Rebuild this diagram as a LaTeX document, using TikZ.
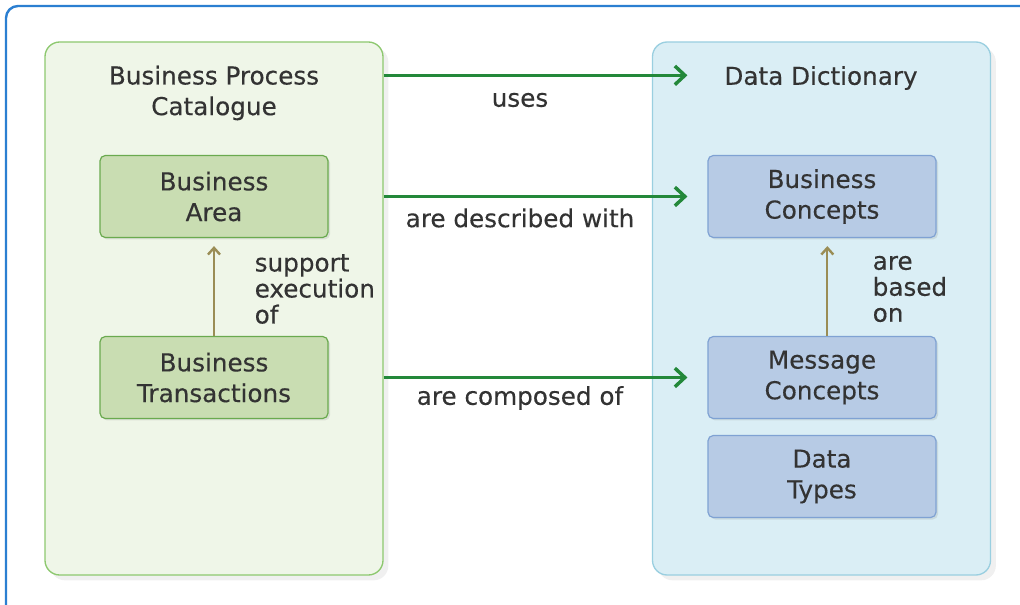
\documentclass[tikz,border=0pt]{standalone}
\usepackage{fontspec}
\setmainfont{DejaVu Sans}
\newfontfamily\diafont{DejaVu Sans}[FakeBold=0.3]
\usepackage{tikz}
\usetikzlibrary{arrows.meta,positioning,shadows,calc}
\definecolor{frameB}{RGB}{43,127,209}
\definecolor{catFill}{RGB}{239,246,232}
\definecolor{catDraw}{RGB}{141,200,111}
\definecolor{dictFill}{RGB}{218,238,245}
\definecolor{dictDraw}{RGB}{154,207,224}
\definecolor{grnFill}{RGB}{201,221,178}
\definecolor{grnDraw}{RGB}{106,170,79}
\definecolor{bluFill}{RGB}{183,203,229}
\definecolor{bluDraw}{RGB}{127,162,211}
\definecolor{arrG}{RGB}{35,136,58}
\definecolor{arrO}{RGB}{154,141,85}
\definecolor{txtC}{RGB}{51,51,51}
\newcommand{\DiaFont}{\diafont\fontsize{18.5}{23}\selectfont}
\tikzset{
    line/.style    = {-{Straight Barb[length=7.5pt,width=14pt,line width=2.6pt]},
            line width=2.5pt, draw=arrG},
    uplink/.style  = {-{Straight Barb[length=5pt,width=9pt,line width=1.8pt]},
            line width=1.7pt, draw=arrO},
    container/.style = {draw, line width=1pt, rounded corners=11pt,
            minimum width=253.5pt, minimum height=399.75pt, inner sep=0pt,
            drop shadow={opacity=0.12, shadow xshift=4pt, shadow yshift=-4pt}},
    catalogue/.style = {container, draw=catDraw, fill=catFill},
    dictionary/.style = {container, draw=dictDraw, fill=dictFill},
    block/.style   = {draw, line width=0.9pt, rounded corners=4pt,
            minimum width=171pt, minimum height=61.5pt, align=center,
            text=txtC, font=\DiaFont,
            drop shadow={opacity=0.18, shadow xshift=1.5pt, shadow yshift=-1.5pt}},
    greenblock/.style = {block, draw=grnDraw, fill=grnFill},
    blueblock/.style  = {block, draw=bluDraw, fill=bluFill},
    title/.style   = {align=center, text=txtC, font=\DiaFont},
    label/.style   = {align=center, text=txtC, font=\DiaFont},
    sidelabel/.style = {align=left, anchor=west, text=txtC,
            font=\diafont\fontsize{18.5}{19.5}\selectfont},
}

\begin{document}
\begin{tikzpicture}[x=0.75pt, y=-0.75pt]
    \useasboundingbox (0,0) rectangle (1020,605);
    % outer frame, runs off the page
    \draw[frameB, line width=1.8pt, rounded corners=9pt] (6,6) rectangle (1040,625);

    % containers
    \node[catalogue]  (bpc) at (214,308.5) {};
    \node[dictionary] (dd)  at (821.5,308.5) {};
    \node[title] (bpctitle) at (214,93) {Business Process\\Catalogue};
    \node[title] (ddtitle)  at (821,78) {Data Dictionary};

    % blocks
    \node[greenblock] (ba) at (214,196.5) {Business\\Area};
    \node[greenblock] (bt) at (214,377.5) {Business\\Transactions};
    \node[blueblock]  (bc) at (822,196.5) {Business\\Concepts};
    \node[blueblock]  (mc) at (822,377.5) {Message\\Concepts};
    \node[blueblock]  (dt) at (822,476.5) {Data\\Types};

    % links between the containers
    \draw[line] ([yshift=2pt]bpc.east |- ddtitle.west) -- ([yshift=2pt,xshift=-15pt]bc.west |- ddtitle.west);
    \draw[line] (bpc.east |- ba.east) -- ([xshift=-15pt]bc.west);
    \draw[line] (bpc.east |- bt.east) -- ([xshift=-15pt]mc.west);
    \node[label] (uses)     at (520,100) {uses};
    \node[label] (descr)    at (520,218) {are described with};
    \node[label] (composed) at (520,398) {are composed of};

    % links inside the containers
    \draw[uplink, shorten >=6pt] (bt.north) -- (ba.south);
    \draw[uplink, shorten >=6pt] ([xshift=4pt]mc.north) -- ([xshift=4pt]bc.south);
    \node[sidelabel] (support) at (250,289) {support\\execution\\of};
    \node[sidelabel] (based)   at (868,289) {are\\based\\on};
\end{tikzpicture}
\end{document}
